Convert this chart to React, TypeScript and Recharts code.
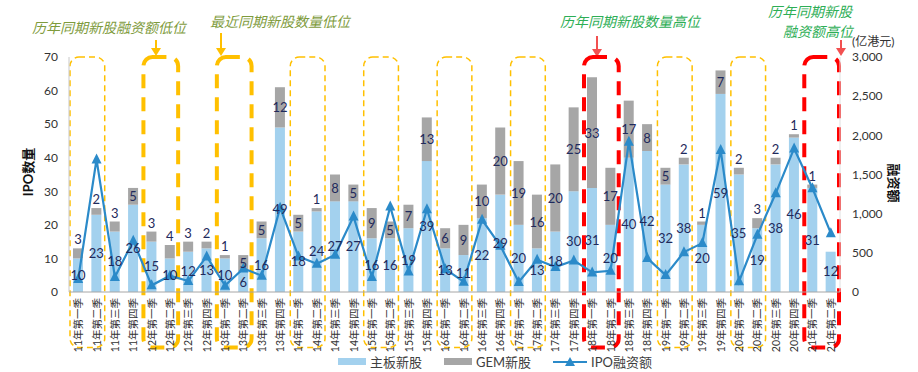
import React from 'react';
import {
  Bar,
  ComposedChart,
  Customized,
  LabelList,
  Legend,
  Line,
  ReferenceArea,
  XAxis,
  YAxis,
} from 'recharts';

// quarters, 2011 Q1 .. 2021 Q2
const quarters = [
  '11年第一季', '11年第二季', '11年第三季', '11年第四季',
  '12年第一季', '12年第二季', '12年第三季', '12年第四季',
  '13年第一季', '13年第二季', '13年第三季', '13年第四季',
  '14年第一季', '14年第二季', '14年第三季', '14年第四季',
  '15年第一季', '15年第二季', '15年第三季', '15年第四季',
  '16年第一季', '16年第二季', '16年第三季', '16年第四季',
  '17年第一季', '17年第二季', '17年第三季', '17年第四季',
  '18年第一季', '18年第二季', '18年第三季', '18年第四季',
  '19年第一季', '19年第二季', '19年第三季', '19年第四季',
  '20年第一季', '20年第二季', '20年第三季', '20年第四季',
  '21年第一季', '21年第二季',
];

// 主板新股 (count)
const mainBoard = [
  10, 23, 18, 26, 15, 10, 12, 13, 10, 6, 16, 49, 18, 24, 27, 27, 16, 16, 19, 39, 13,
  11, 22, 29, 20, 13, 18, 30, 31, 20, 40, 42, 32, 38, 20, 59, 35, 19, 38, 46, 31, 12,
];

// GEM新股 (count)
const gemBoard = [
  3, 2, 3, 5, 3, 4, 3, 2, 1, 5, 5, 12, 5, 1, 8, 5, 9, 5, 7, 13, 6,
  9, 10, 20, 19, 16, 20, 25, 33, 17, 17, 8, 5, 2, 1, 7, 2, 3, 2, 1, 1, 0,
];

// IPO融资额 (亿港元)
const ipoFunds = [
  165, 1693, 191, 653, 85, 208, 140, 454, 81, 301, 208, 1077, 454, 361, 475, 963, 191,
  1090, 263, 1057, 292, 132, 921, 590, 127, 412, 318, 403, 250, 270, 1918, 433, 216,
  509, 624, 1812, 136, 730, 1260, 1833, 1324, 751,
];

const countTicks = [0, 10, 20, 30, 40, 50, 60, 70];
const fundTicks = [0, 500, 1000, 1500, 2000, 2500, 3000];

// highlighted same-quarter groups (Q1 + Q2 of each year)
const highlights = [
  { from: '11年第一季', to: '11年第二季', kind: 'thin' },
  { from: '12年第一季', to: '12年第二季', kind: 'thickYellow' },
  { from: '13年第一季', to: '13年第二季', kind: 'thickYellow' },
  { from: '14年第一季', to: '14年第二季', kind: 'thin' },
  { from: '15年第一季', to: '15年第二季', kind: 'thin' },
  { from: '16年第一季', to: '16年第二季', kind: 'thin' },
  { from: '17年第一季', to: '17年第二季', kind: 'thin' },
  { from: '18年第一季', to: '18年第二季', kind: 'thickRed' },
  { from: '19年第一季', to: '19年第二季', kind: 'thin' },
  { from: '20年第一季', to: '20年第二季', kind: 'thin' },
  { from: '21年第一季', to: '21年第二季', kind: 'thickRed' },
];

const data = quarters.map((q, i) => ({
  quarter: q,
  main: mainBoard[i],
  gem: gemBoard[i],
  funds: ipoFunds[i],
}));

const FONT = 'Lato, "Noto Sans CJK SC", sans-serif';
const MAIN_COLOR = '#A3D1EE';
const GEM_COLOR = '#A6A6A6';
const LINE_COLOR = '#2B8AC9';
const LABEL_COLOR = '#1F2A5C';
const YELLOW = '#FFC000';
const RED = '#FF0000';

const boxStyle = (kind: string) => {
  if (kind === 'thickYellow') return { stroke: YELLOW, strokeWidth: 4, dash: '14 9' };
  if (kind === 'thickRed') return { stroke: RED, strokeWidth: 4, dash: '14 9' };
  return { stroke: YELLOW, strokeWidth: 1.5, dash: '6 4' };
};

const HighlightBox = (kind: string) => (props: any) => {
  const { x, y, width, height } = props;
  const s = boxStyle(kind);
  return (
    <rect
      x={x + 1}
      y={y}
      width={width - 2}
      height={height}
      rx={9}
      fill="none"
      stroke={s.stroke}
      strokeWidth={s.strokeWidth}
      strokeDasharray={s.dash}
    />
  );
};

const QuarterTick = (props: any) => {
  const { x, y, payload } = props;
  return (
    <text
      transform={`translate(${x + 4},${y}) rotate(-90)`}
      textAnchor="end"
      fontSize={10.5}
      fill="#333"
      fontFamily={FONT}
    >
      {payload.value}
    </text>
  );
};

const GemLabel = (props: any) => {
  const { x, y, width, height, value } = props;
  if (!value) return null;
  const cy = height < 16 ? y - 9 : y + height / 2;
  return (
    <text x={x + width / 2} y={cy} textAnchor="middle" dominantBaseline="central" fontSize={13} fill={LABEL_COLOR} fontFamily={FONT}>
      {value}
    </text>
  );
};

const Triangle = (props: any) => {
  const { cx, cy } = props;
  if (cx == null || cy == null) return null;
  return <polygon points={`${cx},${cy - 6} ${cx - 5},${cy + 4} ${cx + 5},${cy + 4}`} fill={LINE_COLOR} />;
};

const Arrow = ({ x, y1, y2, color }: { x: number; y1: number; y2: number; color: string }) => (
  <g>
    <line x1={x} y1={y1} x2={x} y2={y2 - 7} stroke={color} strokeWidth={2} />
    <polygon points={`${x - 5},${y2 - 8} ${x + 5},${y2 - 8} ${x},${y2}`} fill={color} />
  </g>
);

const Annotations = () => {
  const olive = '#7E9B3C';
  const green = '#2DAE55';
  const textProps = { fontSize: 14, fontStyle: 'italic', fontFamily: FONT };
  return (
    <g>
      <text x={32} y={33} fill={olive} {...textProps}>历年同期新股融资额低位</text>
      <text x={210} y={27} fill={olive} {...textProps}>最近同期新股数量低位</text>
      <text x={560} y={27} fill={green} {...textProps}>历年同期新股数量高位</text>
      <text x={768} y={17} fill={green} {...textProps}>历年同期新股</text>
      <text x={783} y={37} fill={green} {...textProps}>融资额高位</text>
      <text x={852} y={46} fill="#333" fontSize={12} fontFamily={FONT}>(亿港元)</text>
      <text x={28} y={172} transform="rotate(-90 28 172)" textAnchor="middle" dominantBaseline="central" fontSize={13} fontWeight="bold" fill="#111" fontFamily={FONT}>
        IPO数量
      </text>
      <text x={894} y={183} transform="rotate(90 894 183)" textAnchor="middle" dominantBaseline="central" fontSize={13} fontWeight="bold" fill="#111" fontFamily={FONT}>
        融资额
      </text>
      <Arrow x={156} y1={40} y2={56} color={YELLOW} />
      <Arrow x={221} y1={33} y2={56} color={YELLOW} />
      <Arrow x={597} y1={36} y2={57} color="#F25050" />
      <Arrow x={841} y1={40} y2={56} color="#F25050" />
    </g>
  );
};

const LegendContent = () => (
  <div style={{ display: 'flex', justifyContent: 'center', alignItems: 'center', gap: 22, fontSize: 13, color: '#404040', fontFamily: FONT, paddingLeft: 66 }}>
    <span style={{ display: 'flex', alignItems: 'center', gap: 4 }}>
      <span style={{ width: 28, height: 7, background: MAIN_COLOR, display: 'inline-block' }} />
      主板新股
    </span>
    <span style={{ display: 'flex', alignItems: 'center', gap: 4 }}>
      <span style={{ width: 28, height: 7, background: GEM_COLOR, display: 'inline-block' }} />
      GEM新股
    </span>
    <span style={{ display: 'flex', alignItems: 'center', gap: 4 }}>
      <svg width={34} height={10}>
        <line x1={0} y1={5} x2={34} y2={5} stroke={LINE_COLOR} strokeWidth={2} />
        <polygon points="17,0 12,9 22,9" fill={LINE_COLOR} />
      </svg>
      IPO融资额
    </span>
  </div>
);

export default function App() {
  return (
    <div style={{ position: 'absolute', left: 0, top: 0, background: '#fff' }}>
      <ComposedChart
        width={918}
        height={372}
        data={data}
        margin={{ top: 57, right: 18, bottom: 0, left: 24 }}
        barSize={10}
      >
        <XAxis
          dataKey="quarter"
          interval={0}
          tickLine={false}
          tickSize={0}
          tickMargin={6}
          height={60}
          stroke="#A6A6A6"
          tick={<QuarterTick />}
        />
        <YAxis
          yAxisId="count"
          domain={[0, 70]}
          ticks={countTicks}
          width={45}
          tickLine={false}
          tickSize={0}
          tickMargin={11}
          stroke="#C8C8C8"
          tick={{ fill: '#333', fontSize: 12, fontFamily: FONT }}
        />
        <YAxis
          yAxisId="funds"
          orientation="right"
          domain={[0, 3000]}
          ticks={fundTicks}
          width={60}
          tickLine={false}
          tickSize={0}
          tickMargin={12}
          stroke="#E0E0E0"
          tickFormatter={(v: number) => v.toLocaleString('en-US')}
          tick={{ fill: '#333', fontSize: 12, fontFamily: FONT, textAnchor: 'start' }}
        />
        <Bar yAxisId="count" dataKey="main" name="主板新股" stackId="ipo" fill={MAIN_COLOR} isAnimationActive={false}>
          <LabelList dataKey="main" position="center" fill={LABEL_COLOR} fontSize={13} fontFamily={FONT} />
        </Bar>
        <Bar yAxisId="count" dataKey="gem" name="GEM新股" stackId="ipo" fill={GEM_COLOR} isAnimationActive={false}>
          <LabelList dataKey="gem" content={<GemLabel />} />
        </Bar>
        <Line
          yAxisId="funds"
          dataKey="funds"
          name="IPO融资额"
          stroke={LINE_COLOR}
          strokeWidth={2.2}
          dot={<Triangle />}
          activeDot={false}
          isAnimationActive={false}
        />
        {highlights.map((h) => (
          <ReferenceArea
            key={h.from}
            yAxisId="count"
            x1={h.from}
            x2={h.to}
            y1={-16.5}
            y2={70}
            ifOverflow="visible"
            shape={HighlightBox(h.kind)}
          />
        ))}
        <Customized component={<Annotations />} />
        <Legend verticalAlign="bottom" height={20} content={<LegendContent />} />
      </ComposedChart>
    </div>
  );
}
